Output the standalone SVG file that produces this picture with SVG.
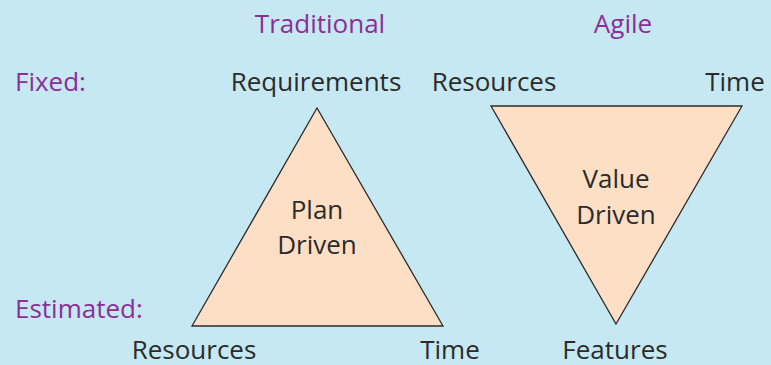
<svg xmlns="http://www.w3.org/2000/svg" width="771" height="365" viewBox="0 0 771 365">
<style>
text{font-family:"Open Sans","Noto Sans","DejaVu Sans",sans-serif;font-size:26px}
.h{fill:#8B2F98}
.t{fill:#2b2b2b}
.tri{fill:#FDDFC6;stroke:#2b2b2b;stroke-width:1.3;stroke-linejoin:miter}
</style>
<rect width="771" height="365" fill="#C6E8F2"/>
<g id="labels">
<text class="h" x="320" y="33" text-anchor="middle">Traditional</text>
<text class="h" x="623" y="33" text-anchor="middle">Agile</text>
<text class="h" x="15" y="91">Fixed:</text>
<text class="h" x="15" y="318">Estimated:</text>
</g>
<g id="plan-driven">
<polygon class="tri" points="317,108 192,326 443,326"/>
<text class="t" x="317" y="219" text-anchor="middle">Plan</text>
<text class="t" x="317" y="254" text-anchor="middle">Driven</text>
<text class="t" x="316" y="91" text-anchor="middle">Requirements</text>
<text class="t" x="194" y="359" text-anchor="middle">Resources</text>
<text class="t" x="450" y="359" text-anchor="middle">Time</text>
</g>
<g id="value-driven">
<polygon class="tri" points="491,106 742,106 616,324"/>
<text class="t" x="616" y="188" text-anchor="middle">Value</text>
<text class="t" x="616" y="224" text-anchor="middle">Driven</text>
<text class="t" x="494" y="91" text-anchor="middle">Resources</text>
<text class="t" x="735" y="91" text-anchor="middle">Time</text>
<text class="t" x="615" y="359" text-anchor="middle">Features</text>
</g>
<g id="connectors"/>
</svg>
